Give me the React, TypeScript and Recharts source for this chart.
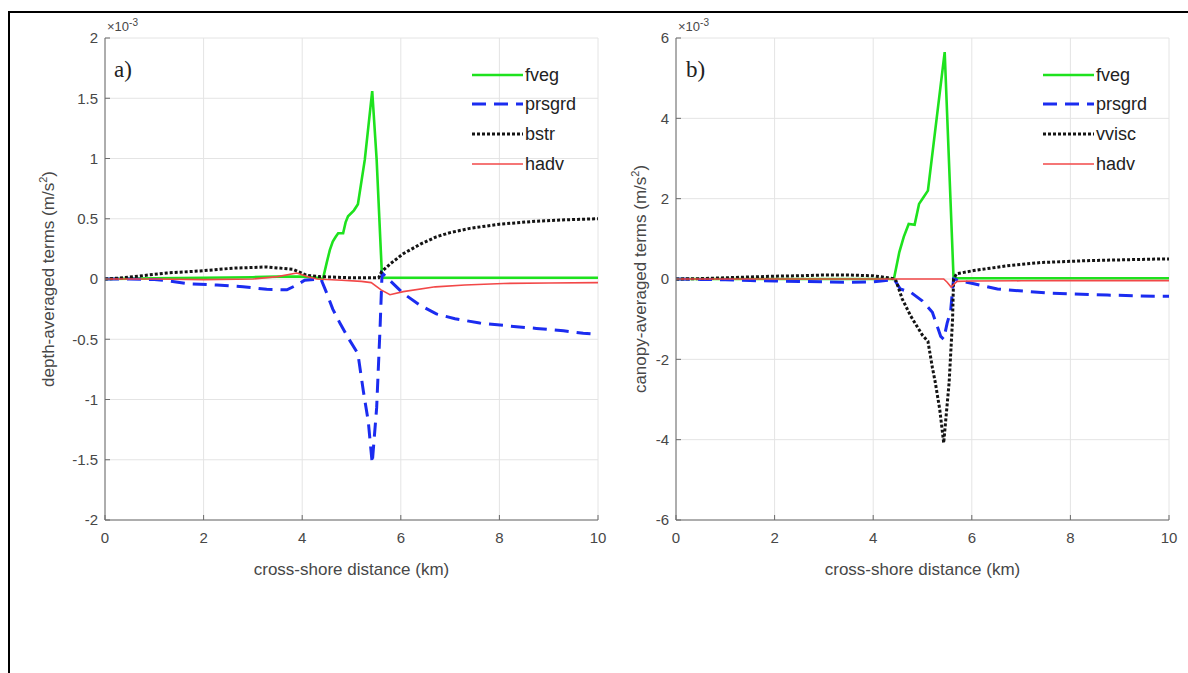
import { LineChart, Line, XAxis, YAxis, CartesianGrid, Legend } from 'recharts';

// values in units of 1e-3 m/s^2, x in km
const xTicks = [0, 2, 4, 6, 8, 10];
const yTicksA = [-2, -1.5, -1, -0.5, 0, 0.5, 1, 1.5, 2];
const yTicksB = [-6, -4, -2, 0, 2, 4, 6];

// panel a) depth-averaged
const fvegA_x = [0, 1, 2, 3, 3.5, 4.0, 4.3, 4.42, 4.5, 4.56, 4.62, 4.68, 4.73, 4.83, 4.88, 4.93, 5.05, 5.13, 5.27, 5.42, 5.51, 5.62, 5.7, 6, 7, 8, 9, 10];
const fvegA_y = [0, 0.005, 0.01, 0.015, 0.02, 0.02, 0.01, 0, 0.14, 0.24, 0.31, 0.35, 0.38, 0.38, 0.47, 0.52, 0.57, 0.62, 0.99, 1.56, 0.99, 0.01, 0.01, 0.01, 0.01, 0.01, 0.01, 0.01];

const prsgrdA_x = [0, 0.5, 1, 1.25, 1.72, 2.27, 2.8, 3.28, 3.69, 3.89, 4.05, 4.38, 4.5, 4.62, 4.77, 4.95, 5.13, 5.24, 5.34, 5.42, 5.51, 5.58, 5.62, 6.05, 6.4, 6.72, 7.1, 7.6, 8.2, 8.75, 9.3, 9.7, 10];
const prsgrdA_y = [0, 0, -0.005, -0.014, -0.04, -0.05, -0.064, -0.086, -0.09, -0.05, -0.01, 0, -0.12, -0.25, -0.37, -0.5, -0.62, -0.93, -1.18, -1.53, -1.07, -0.4, 0.05, -0.12, -0.22, -0.29, -0.33, -0.365, -0.39, -0.41, -0.43, -0.45, -0.46];

const bstrA_x = [0, 0.37, 1.25, 1.93, 2.6, 3.28, 3.82, 4.09, 4.36, 5.0, 5.55, 5.61, 5.8, 6.05, 6.4, 6.72, 7.0, 7.4, 8, 8.75, 9.4, 10];
const bstrA_y = [0, 0.01, 0.05, 0.067, 0.09, 0.1, 0.08, 0.03, 0.02, 0.01, 0.01, 0.06, 0.13, 0.21, 0.29, 0.35, 0.385, 0.42, 0.455, 0.48, 0.492, 0.5];

const hadvA_x = [0, 1, 2, 3, 3.5, 3.89, 4.1, 4.3, 4.8, 5.2, 5.4, 5.6, 5.78, 6.05, 6.7, 7.3, 8.08, 9, 10];
const hadvA_y = [0, 0, -0.005, 0, 0.02, 0.05, 0.02, 0, -0.01, -0.02, -0.03, -0.09, -0.13, -0.105, -0.065, -0.05, -0.037, -0.033, -0.03];

// panel b) canopy-averaged
const fvegB_x = [0, 1, 2, 3, 4, 4.42, 4.53, 4.62, 4.72, 4.84, 4.93, 5.0, 5.11, 5.45, 5.63, 5.7, 6, 7, 8, 9, 10];
const fvegB_y = [0, 0, 0, 0, 0, 0, 0.67, 1.05, 1.37, 1.35, 1.87, 2.0, 2.2, 5.65, 0.02, 0.02, 0.02, 0.02, 0.02, 0.02, 0.02];

const prsgrdB_x = [0, 0.5, 1, 1.5, 2, 2.5, 3, 3.5, 4, 4.3, 4.42, 4.55, 4.76, 5.0, 5.2, 5.37, 5.43, 5.5, 5.57, 5.63, 5.75, 6.04, 6.52, 7.53, 8.75, 9.7, 10];
const prsgrdB_y = [0, -0.01, -0.02, -0.04, -0.05, -0.06, -0.07, -0.08, -0.07, -0.03, 0, -0.25, -0.33, -0.55, -0.83, -1.43, -1.5, -1.1, -0.8, 0, -0.04, -0.12, -0.25, -0.35, -0.4, -0.43, -0.43];

const vviscB_x = [0, 0.5, 1, 1.5, 2, 2.5, 3, 3.5, 4, 4.3, 4.45, 4.59, 4.76, 5.0, 5.11, 5.2, 5.26, 5.35, 5.43, 5.54, 5.61, 5.63, 5.69, 6.04, 6.72, 7.4, 8.41, 9.9, 10];
const vviscB_y = [0, 0.01, 0.03, 0.05, 0.07, 0.08, 0.1, 0.1, 0.08, 0.03, 0, -0.5, -0.92, -1.4, -1.55, -2.2, -2.58, -3.25, -4.08, -2.58, -1.0, 0, 0.13, 0.21, 0.33, 0.41, 0.46, 0.5, 0.5];

const hadvB_x = [0, 2, 4, 5.0, 5.43, 5.5, 5.58, 5.7, 6, 7, 8, 9, 10];
const hadvB_y = [0, 0, 0, 0, 0, -0.08, -0.2, -0.06, -0.05, -0.045, -0.04, -0.04, -0.04];

const pts = (xs: number[], ys: number[]) => xs.map((x, i) => ({ x, y: ys[i] }));

const GREEN = { color: '#1ee21e', width: 2.6, dash: undefined as string | undefined };
const BLUE = { color: '#1b2cf0', width: 3, dash: '14 8' };
const DOTS = { color: '#141414', width: 3, dash: '3 2' };
const RED = { color: '#f24848', width: 1.6, dash: undefined as string | undefined };

const seriesA = [
  { name: 'fveg', data: pts(fvegA_x, fvegA_y), ...GREEN },
  { name: 'prsgrd', data: pts(prsgrdA_x, prsgrdA_y), ...BLUE },
  { name: 'bstr', data: pts(bstrA_x, bstrA_y), ...DOTS },
  { name: 'hadv', data: pts(hadvA_x, hadvA_y), ...RED },
];

const seriesB = [
  { name: 'fveg', data: pts(fvegB_x, fvegB_y), ...GREEN },
  { name: 'prsgrd', data: pts(prsgrdB_x, prsgrdB_y), ...BLUE },
  { name: 'vvisc', data: pts(vviscB_x, vviscB_y), ...DOTS },
  { name: 'hadv', data: pts(hadvB_x, hadvB_y), ...RED },
];

const AXIS = '#6a6a6a';
const TEXT = '#474747';
const FONT = '"Liberation Sans", Arial, Helvetica, sans-serif';

function MyLegend({ series }: { series: typeof seriesA }) {
  const ys = [14, 43, 73, 103];
  return (
    <svg width={130} height={118}>
      {series.map((s, i) => (
        <g key={s.name}>
          <line x1={2} x2={53} y1={ys[i]} y2={ys[i]} stroke={s.color} strokeWidth={s.width} strokeDasharray={s.dash} />
          <text x={55} y={ys[i] + 6} fontSize={18} fill="#222" fontFamily={FONT}>{s.name}</text>
        </g>
      ))}
    </svg>
  );
}

function Panel({ series, yTicks, domain, width, marginRight }: any) {
  return (
    <LineChart width={width} height={600} margin={{ top: 38, right: marginRight, bottom: 20, left: 45 }}>
      <CartesianGrid stroke="#e4e4e4" strokeWidth={1} />
      <XAxis
        dataKey="x"
        type="number"
        domain={[0, 10]}
        ticks={xTicks}
        height={60}
        stroke={AXIS}
        tickSize={-5}
        tickMargin={17}
        tick={{ fontSize: 15, fill: TEXT }}
        label={{ value: 'cross-shore distance (km)', position: 'insideBottom', offset: 5, fontSize: 17, fill: TEXT }}
      />
      <XAxis xAxisId="top" orientation="top" type="number" domain={[0, 10]} ticks={xTicks} height={0} stroke={AXIS} tickSize={-5} tick={false} />
      <YAxis
        type="number"
        domain={domain}
        ticks={yTicks}
        width={60}
        stroke={AXIS}
        tickSize={-5}
        tickMargin={12}
        tick={{ fontSize: 15, fill: TEXT }}
      />
      <YAxis yAxisId="right" orientation="right" type="number" domain={domain} ticks={yTicks} width={0} stroke={AXIS} tickSize={-5} tick={false} />
      {series.map((s: any) => (
        <Line
          key={s.name}
          data={s.data}
          dataKey="y"
          name={s.name}
          type="linear"
          stroke={s.color}
          strokeWidth={s.width}
          strokeDasharray={s.dash}
          dot={false}
          activeDot={false}
          isAnimationActive={false}
        />
      ))}
      <Legend
        layout="vertical"
        align="center"
        verticalAlign="middle"
        content={() => <MyLegend series={series} />}
        wrapperStyle={{ left: 470, top: 61, width: 130 }}
      />
    </LineChart>
  );
}

export default function App() {
  const sup = { fontSize: 10, verticalAlign: 'super' as const, lineHeight: 0 };
  return (
    <div style={{ position: 'absolute', left: 0, top: 0, width: 1188, height: 673, overflow: 'hidden', background: '#fff', fontFamily: FONT }}>
      <div style={{ position: 'absolute', left: 8, top: 11, width: 1300, height: 800, borderTop: '2px solid #000', borderLeft: '2px solid #000' }} />
      <div style={{ position: 'absolute', left: 0, top: 0 }}>
        <Panel series={seriesA} yTicks={yTicksA} domain={[-2, 2]} width={620} marginRight={22} />
      </div>
      <div style={{ position: 'absolute', left: 571, top: 0 }}>
        <Panel series={seriesB} yTicks={yTicksB} domain={[-6, 6]} width={615} marginRight={17} />
      </div>

      <div style={{ position: 'absolute', left: 107, top: 20, fontSize: 13, color: TEXT, lineHeight: 1 }}>
        ×10<span style={sup}>-3</span>
      </div>
      <div style={{ position: 'absolute', left: 678, top: 20, fontSize: 13, color: TEXT, lineHeight: 1 }}>
        ×10<span style={sup}>-3</span>
      </div>

      <div style={{ position: 'absolute', left: 114, top: 58, fontSize: 23, fontFamily: '"Liberation Serif", "Times New Roman", serif', color: '#222', lineHeight: 1 }}>a)</div>
      <div style={{ position: 'absolute', left: 686, top: 58, fontSize: 23, fontFamily: '"Liberation Serif", "Times New Roman", serif', color: '#222', lineHeight: 1 }}>b)</div>

      <div style={{ position: 'absolute', left: 48, top: 279, transform: 'translate(-50%, -50%) rotate(-90deg)', whiteSpace: 'nowrap', fontSize: 17, color: TEXT }}>
        depth-averaged terms (m/s<sup style={{ fontSize: 11 }}>2</sup>)
      </div>
      <div style={{ position: 'absolute', left: 640, top: 279, transform: 'translate(-50%, -50%) rotate(-90deg)', whiteSpace: 'nowrap', fontSize: 17, color: TEXT }}>
        canopy-averaged terms (m/s<sup style={{ fontSize: 11 }}>2</sup>)
      </div>
    </div>
  );
}
